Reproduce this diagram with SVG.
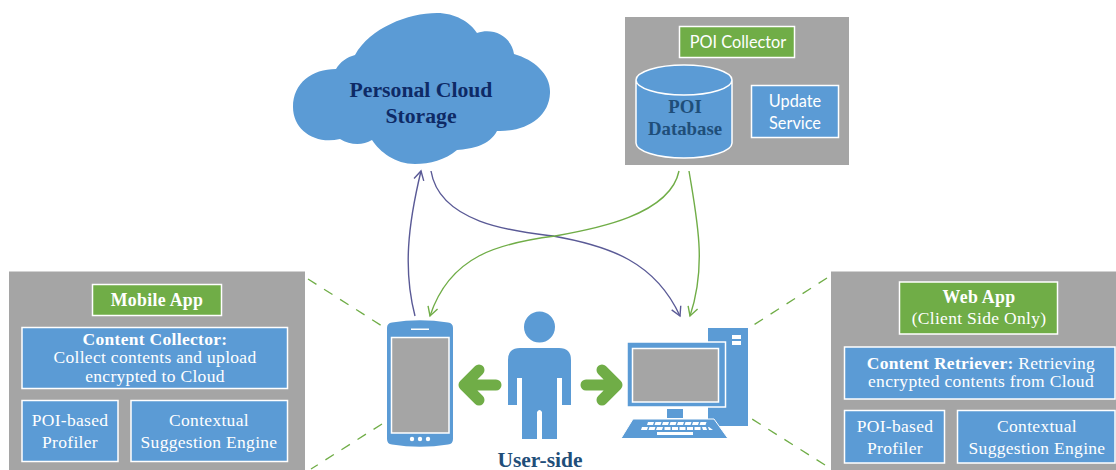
<svg xmlns="http://www.w3.org/2000/svg" width="1116" height="470" viewBox="0 0 1116 470">
<style>
.panel{fill:#a5a5a5}
.blue{fill:#5b9bd5;stroke:#fff;stroke-width:1.5}
.green{fill:#70ad47;stroke:#fff;stroke-width:1.5}
.solid{fill:#5b9bd5}
.t{font-family:"Liberation Serif","Times New Roman",serif;fill:#fff;text-anchor:middle;font-size:17.5px;letter-spacing:.3px}
.b{font-weight:bold}
.h{font-size:17.8px;letter-spacing:.3px}
.s{font-family:Lato,"Noto Sans",sans-serif;fill:#fff;text-anchor:middle;font-size:16.3px}
.dark{font-family:"Liberation Serif","Times New Roman",serif;font-weight:bold;text-anchor:middle}
.con{fill:none;stroke-width:1.4}
.p{stroke:#5a5a96}
.g{stroke:#70ad47}
.dash{fill:none;stroke:#70ad47;stroke-width:1.3;stroke-dasharray:10 9}
.big{fill:none;stroke:#70ad47;stroke-width:11;stroke-linecap:round;stroke-linejoin:round}
</style>
<defs>
<marker id="ap" markerUnits="userSpaceOnUse" markerWidth="14" markerHeight="14" refX="11" refY="6" orient="auto"><path d="M2 1L11 6L2 11" fill="none" stroke="#5a5a96" stroke-width="1.4"/></marker>
<marker id="ag" markerUnits="userSpaceOnUse" markerWidth="14" markerHeight="14" refX="11" refY="6" orient="auto"><path d="M2 1L11 6L2 11" fill="none" stroke="#70ad47" stroke-width="1.4"/></marker>
</defs>
<g id="connectors">
<path class="con p" marker-end="url(#ap)" d="M415 316C403 270 408 225 421 171"/>
<path class="con p" marker-end="url(#ap)" d="M431 171C440 225 520 232 553 236C610 246 655 262 680 316"/>
<path class="con g" marker-end="url(#ag)" d="M679 171C670 215 595 229 555 236C500 243 450 255 430 316"/>
<path class="con g" marker-end="url(#ag)" d="M689 171C697 220 707 265 690 316"/>
<path class="dash" d="M308 279L382 326"/>
<path class="dash" d="M382 424L311 469"/>
<path class="dash" d="M827 278L752 326"/>
<path class="dash" d="M825 465L752 419"/>
</g>
<g id="cloud">
<path class="solid" d="M355 55C370 28 408 13 437 13C455 13 470 22 477 33C495 27 512 38 514 54C535 60 551 75 550 93C549 118 525 132 497 131C490 145 472 149 457 150C445 160 430 164 415 164C395 164 380 152 372 140C362 146 350 145 340 139C315 145 293 130 293 107C293 83 312 69 336 69C340 62 347 57 355 55Z"/>
<text class="dark" x="421" y="97" font-size="21.7" fill="#0e2a66">Personal Cloud</text>
<text class="dark" x="421" y="123" font-size="21.7" fill="#0e2a66">Storage</text>
</g>
<g id="poi-server">
<rect class="panel" x="625" y="17" width="224" height="148"/>
<rect class="green" x="679.500" y="26.500" width="115" height="31"/>
<text class="s" x="738" y="48">POI Collector</text>
<path class="blue" d="M636 80V143C636 151 657 158 684 158C711 158 732 151 732 143V80C732 72 711 65 684 65C657 65 636 72 636 80C636 88 657 95 684 95C711 95 732 88 732 80"/>
<text class="dark" x="685" y="113" font-size="18.8" fill="#1f4e79">POI</text>
<text class="dark" x="685" y="135" font-size="18.8" fill="#1f4e79">Database</text>
<rect class="blue" x="751.500" y="85.500" width="87" height="52"/>
<text class="s" x="795" y="107">Update</text>
<text class="s" x="795" y="129">Service</text>
</g>
<g id="mobile-app">
<rect class="panel" x="9" y="271.500" width="296" height="199"/>
<rect class="green" x="92.500" y="284.500" width="129" height="31"/>
<text class="t b h" x="157" y="306">Mobile App</text>
<rect class="blue" x="22" y="327.500" width="265.500" height="61"/>
<text class="t b" x="155" y="345">Content Collector:</text>
<text class="t" x="155" y="363">Collect contents and upload</text>
<text class="t" x="155" y="382">encrypted to Cloud</text>
<rect class="blue" x="22" y="400.500" width="96" height="61"/>
<text class="t" x="70" y="426">POI-based</text>
<text class="t" x="70" y="448">Profiler</text>
<rect class="blue" x="131" y="400.500" width="156.500" height="61"/>
<text class="t" x="209" y="426">Contextual</text>
<text class="t" x="209" y="448">Suggestion Engine</text>
</g>
<g id="phone">
<path class="solid" d="M387 328Q387 323 392 322.500Q420 318 448 322.500Q453 323 453 328V439Q453 444 448 444.500Q420 449 392 444.500Q387 444 387 439Z"/>
<rect x="391.500" y="337.500" width="57.500" height="95.500" fill="#a5a5a5" stroke="#fff" stroke-width="1.5"/>
<rect x="411" y="328.500" width="18" height="1.500" fill="#fff"/>
<circle cx="412" cy="439" r="2.200" fill="#fff"/><circle cx="420" cy="439" r="2.200" fill="#fff"/><circle cx="428" cy="439" r="2.200" fill="#fff"/>
</g>
<g id="left-arrow">
<path class="big" d="M496 385H464M479 370L464 385L479 400"/>
</g>
<g id="user">
<circle class="solid" cx="539.500" cy="327" r="15.500"/>
<path class="solid" d="M508 405V360Q508 348 520 348H559Q571 348 571 360V405H562V378H557V439H542V412Q539.500 408 537 412V439H522V378H517V405Z"/>
<text class="dark" x="540" y="467" font-size="21.500" fill="#1f4e79">User-side</text>
</g>
<g id="right-arrow">
<path class="big" d="M586 385H617M602 370L617 385L602 400"/>
</g>
<g id="computer">
<rect class="solid" x="708" y="328" width="40" height="98"/>
<rect x="732" y="335" width="9" height="4" fill="#fff"/><rect x="732" y="341" width="9" height="4" fill="#fff"/>
<rect class="solid" x="627" y="342" width="98.500" height="65" stroke="#fff" stroke-width="1.500"/>
<rect x="632.500" y="348.500" width="86" height="53.500" fill="#a5a5a5" stroke="#fff" stroke-width="1.500"/>
<rect class="solid" x="667" y="409" width="16" height="9"/>
<path class="solid" stroke="#fff" stroke-width="1" d="M633 419L621 438.500H728L714 419Z"/>
<path d="M648 422h6l-1 3h-6zM655.500 422h6l-1 3h-6zM663 422h6l-1 3h-6zM670.500 422h6l-1 3h-6zM678 422h6l-1 3h-6zM685.500 422h6l-1 3h-6zM693 422h6l-1 3h-6zM700.500 422h6l-1 3h-6zM642 427h6l-1 3h-6zM649.500 427h6l-1 3h-6zM657 427h6l-1 3h-6zM664.500 427h6v3h-6zM672 427h6v3h-6zM679.500 427h6v3h-6zM687 427h6v3h-6zM694.500 427h6v3h-6zM702 427h6l1 3h-6zM709 427h-3l1 3h6z" fill="#fff"/>
<rect x="657" y="432" width="36" height="3" fill="#fff"/>
</g>
<g id="web-app">
<rect class="panel" x="831" y="271.500" width="285" height="199"/>
<rect class="green" x="899.500" y="282" width="158" height="52"/>
<text class="t b h" x="979" y="303">Web App</text>
<text class="t" x="979" y="324">(Client Side Only)</text>
<rect class="blue" x="844.500" y="347" width="270.500" height="52"/>
<text class="t" x="981" y="369"><tspan class="b">Content Retriever:</tspan> Retrieving</text>
<text class="t" x="981" y="387">encrypted contents from Cloud</text>
<rect class="blue" x="844.500" y="410.500" width="100" height="52.500"/>
<text class="t" x="895" y="432">POI-based</text>
<text class="t" x="895" y="454">Profiler</text>
<rect class="blue" x="957.500" y="410.500" width="157.500" height="52.500"/>
<text class="t" x="1037" y="432">Contextual</text>
<text class="t" x="1037" y="454">Suggestion Engine</text>
</g>
</svg>
